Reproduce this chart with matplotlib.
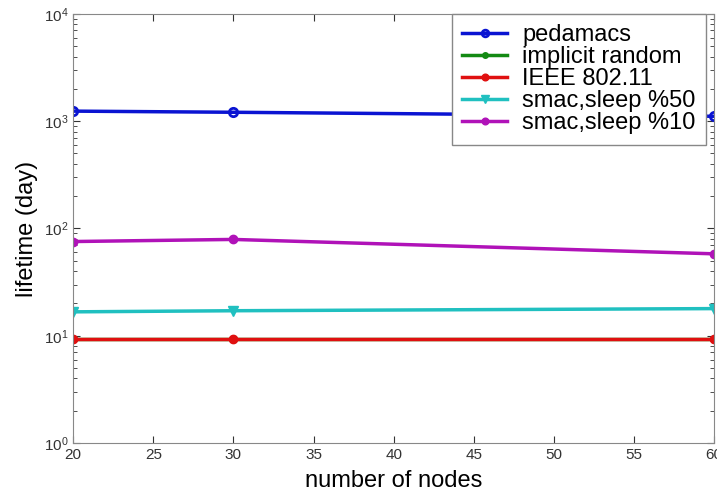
import matplotlib
matplotlib.use("Agg")
import matplotlib.pyplot as plt

plt.rcParams['font.family'] = ['Liberation Sans', 'DejaVu Sans']

# Datos: tiempo de vida de la red vs. numero de nodos
nodos = [20, 30, 60]
pedamacs = [1240, 1210, 1110]
implicit_random = [9.3, 9.3, 9.3]
ieee80211 = [9.3, 9.3, 9.3]
smac_sleep50 = [16.7, 17.1, 17.9]
smac_sleep10 = [75.5, 79, 58]

etiquetas = ['pedamacs', 'implicit random', 'IEEE 802.11', 'smac,sleep %50', 'smac,sleep %10']
xticks = [20, 25, 30, 35, 40, 45, 50, 55, 60]

fig = plt.figure(figsize=(7.17, 4.95), dpi=100)
ax = fig.add_axes([0.102, 0.105, 0.894, 0.867])

ax.plot(nodos, pedamacs, color='#0a14d2', marker='o', mfc='none', mew=2, ms=6, lw=2.5, label=etiquetas[0])
ax.plot(nodos, implicit_random, color='#138a13', marker='o', ms=5, lw=2.5, label=etiquetas[1])
ax.plot(nodos, ieee80211, color='#e01010', marker='o', ms=6, lw=2.5, label=etiquetas[2])
ax.plot(nodos, smac_sleep50, color='#20c0c0', marker='v', ms=7, lw=2.5, label=etiquetas[3])
ax.plot(nodos, smac_sleep10, color='#b012b8', marker='o', ms=6, lw=2.5, label=etiquetas[4])

ax.set_yscale('log')
ax.set_ylim(1, 1e4)
ax.set_xlim(20, 60)
ax.set_xticks(xticks)
ax.tick_params(which='both', direction='in', top=True, right=True, labelsize=11, colors='#333333')
ax.tick_params(which='major', length=5)
ax.tick_params(which='minor', length=3)
for s in ax.spines.values():
    s.set_color('#888888')

ax.set_xlabel('number of nodes', fontsize=17, labelpad=6)
ax.set_ylabel('lifetime (day)', fontsize=17, labelpad=4)

leg = ax.legend(loc='upper right', bbox_to_anchor=(0.988, 1.0), borderaxespad=0, fontsize=17,
                handlelength=1.9, handletextpad=0.65, markerscale=0.8,
                labelspacing=0.0, borderpad=0.45, fancybox=False, edgecolor='#888888', framealpha=1)

fig.savefig('out.png', dpi=100)
